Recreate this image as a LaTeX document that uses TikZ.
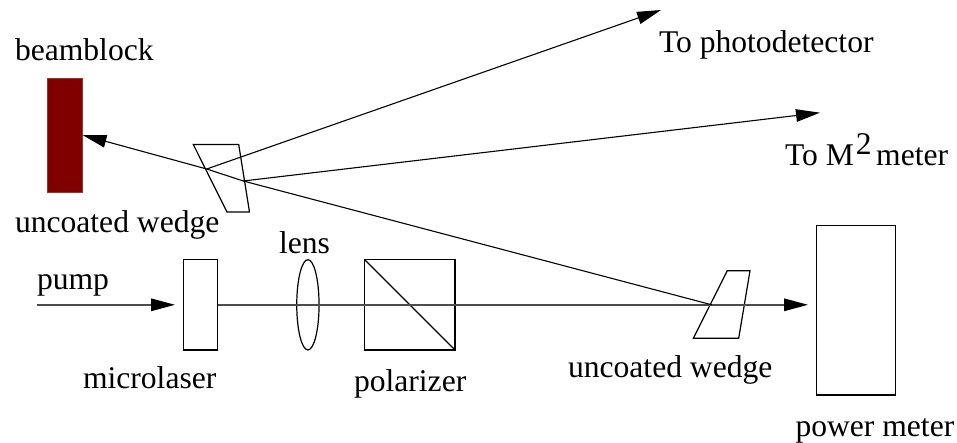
\documentclass[tikz,border=0pt]{standalone}
\usepackage{fontspec}
\setmainfont{Liberation Serif}
\usetikzlibrary{arrows.meta,shapes.geometric}
\definecolor{blockred}{HTML}{800000}
\tikzset{
  lbl/.style={anchor=base west,inner sep=0pt,outer sep=0pt,font=\fontsize{31.6}{36}\selectfont},
  optic/.style={draw=black,line width=1.2pt,inner sep=0pt,outer sep=0pt},
  beam/.style={draw=black,line width=1.1pt},
  beamarrow/.style={beam,-{Triangle[length=24pt,width=12.5pt]}},
  mainbeam/.style={draw=black!70,line width=1.5pt,-{Triangle[length=24pt,width=12.5pt,black]},shorten >=8.3pt}
}
\begin{document}
\begin{tikzpicture}[x=1pt,y=-1pt]
\useasboundingbox (0,0) rectangle (957,443);
% components
\node[draw=blockred!80,fill=blockred,line width=.5pt,inner sep=0pt,outer sep=0pt,minimum width=35pt,minimum height=113.5pt] (block) at (65,135.2) {};
\node[optic,minimum width=34.4pt,minimum height=90.3pt] (laser) at (200.5,304.8) {};
\node[optic,ellipse,minimum width=22.3pt,minimum height=90.3pt] (lens) at (307.9,304.8) {};
\node[optic,minimum width=90.3pt,minimum height=90.3pt] (pol) at (409.8,304.8) {};
\node[optic,minimum width=79pt,minimum height=169.3pt] (pm) at (855.8,310.3) {};
\draw[optic] (pol.north west) -- (pol.south east);
% wedges
\draw[optic] (193.3,144.5) -- (238.7,144.5) -- (249.5,212) -- (227,212) -- cycle;
\draw[optic] (727.3,270.7) -- (750,270.7) -- (738.7,338.3) -- (693.3,338.3) -- cycle;
% beam points
\coordinate (pumpstart) at (37,304.8);
\coordinate (front) at (206.7,169);
\coordinate (back) at (243.3,181);
\coordinate (low) at (711.7,304.8);
\coordinate (hit) at (block.east |- 0,135);
\coordinate (photo) at (661,10);
\coordinate (msq) at (820,112.7);
\coordinate (pmhit) at (pm.west |- laser.east);
% beams
\draw[mainbeam] (pumpstart) -- (laser.west);
\draw[mainbeam] (laser.east) -- (pmhit);
\draw[beam] (low) -- (back) -- (front);
\draw[beamarrow] (front) -- (hit);
\draw[beamarrow] (front) -- (photo);
\draw[beamarrow] (back) -- (msq);
% labels
\node[lbl] (t1) at (15,61) {beamblock};
\node[lbl] (t2) at (15,233) {uncoated wedge};
\node[lbl] (t3) at (279,254) {lens};
\node[lbl] (t4) at (37,289) {pump};
\node[lbl] (t5) at (83,388) {microlaser};
\node[lbl] (t6) at (354,391) {polarizer};
\node[lbl] (t7) at (568,377) {uncoated wedge};
\node[lbl] (t8) at (795.5,436) {power meter};
\node[lbl] (t9) at (659,52.5) {To photodetector};
\node[lbl] (t10) at (785,165.5) {To M\kern2pt\raisebox{11pt}{2}\kern4.5pt meter};
\end{tikzpicture}
\end{document}
